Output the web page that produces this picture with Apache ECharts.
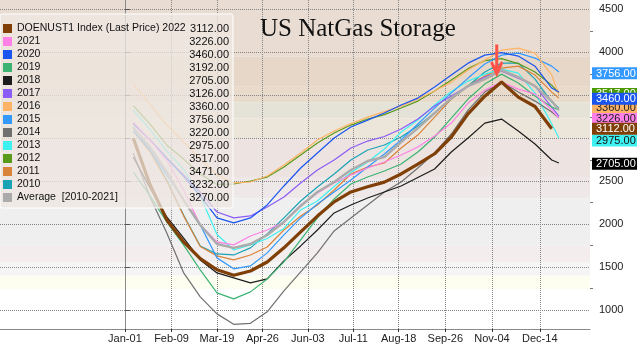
<!DOCTYPE html>
<html><head><meta charset="utf-8">
<script src="https://cdn.jsdelivr.net/npm/echarts@6/dist/echarts.min.js"></script>
<style>html,body{margin:0;padding:0;background:#fff}#c{width:640px;height:345px}</style>
</head><body><div id="c"></div>
<script>
// ---------- DATA ----------
const days = [7,21,35,49,63,77,91,105,119,133,147,161,175,189,203,217,231,245,259,273,287,301,315,329,343,357,363];
const xTickDays = [0,39,77,115,153,191,229,268,307,347];
const xTickLabels = ['Jan-01','Feb-09','Mar-19','Apr-26','Jun-03','Jul-11','Aug-18','Sep-26','Nov-04','Dec-14'];
const yTicks = [1000,1500,2000,2500,3000,3500,4000,4500];
const yMinorTicks = [1250,1750,2250,2750,3250,3750,4250];

const s2022 = [3000,2460,2050,1795,1600,1470,1405,1455,1560,1725,1910,2095,2260,2375,2435,2490,2585,2700,2820,3015,3285,3490,3655,3480,3370,3112,null];
const s2021 = [3189,2980,2747,2398,1991,1794,1759,1863,1933,2026,2224,2363,2480,2573,2654,2724,2805,2898,3026,3177,3410,3561,3654,3573,3515,3329,3236];
const s2020 = [3177,2980,2770,2561,2329,2073,2015,2073,2224,2445,2654,2829,3003,3131,3212,3294,3387,3468,3596,3736,3875,3968,3997,3957,3840,3585,3538];
const s2019 = [2608,2329,2026,1759,1468,1200,1131,1212,1363,1561,1817,2073,2294,2468,2549,2619,2701,2840,3015,3236,3457,3631,3747,3643,3492,3364,3329];
const s2018 = [2782,2422,2084,1840,1584,1433,1375,1317,1363,1573,1747,1933,2131,2224,2305,2375,2445,2544,2643,2840,3003,3177,3224,3085,2933,2747,2712];
const s2017 = [3166,2980,2770,2573,2375,2142,2073,2096,2201,2317,2480,2631,2747,2887,2968,3021,3108,3224,3375,3492,3608,3713,3782,3701,3608,3364,3259];
const s2016 = [3631,3398,3154,2957,2759,2573,2480,2491,2561,2689,2829,2980,3085,3172,3247,3311,3375,3457,3550,3654,3794,3910,4026,4050,3992,3736,3503];
const s2015 = [3084,2864,2573,2282,1991,1608,1480,1514,1666,1875,2073,2236,2375,2515,2666,2817,2980,3166,3352,3526,3701,3864,3968,3992,3933,3840,3771];
const s2014 = [2829,2317,1898,1437,1154,956,834,846,980,1224,1445,1666,1921,2073,2224,2375,2491,2654,2829,3050,3329,3538,3654,3538,3433,3305,3240];
const s2013 = [3329,3100,2850,2640,2330,1880,1700,1759,1834,1951,2166,2270,2439,2603,2724,2875,3073,3212,3387,3544,3666,3747,3806,3759,3526,3166,3003];
const s2012 = [3381,3166,2922,2759,2584,2462,2468,2503,2549,2666,2805,2945,3061,3154,3224,3276,3352,3433,3550,3678,3811,3904,3928,3870,3771,3619,3526];
const s2011 = [3084,2840,2500,2100,1740,1631,1584,1642,1735,1933,2096,2224,2398,2584,2666,2712,2887,3038,3247,3457,3608,3724,3817,3840,3736,3538,3468];
const s2010 = [3131,2864,2515,2108,1747,1654,1642,1724,1887,2073,2270,2433,2584,2747,2864,2922,3015,3143,3294,3457,3608,3771,3875,3875,3689,3422,3352];
const sAvg  = [3119,2898,2608,2282,1991,1770,1724,1770,1875,2026,2212,2375,2491,2631,2736,2782,2957,3119,3294,3468,3608,3689,3794,3713,3608,3433,3329];

const legendNames = ['DOENUST1 Index (Last Price) 2022','2021','2020','2019','2018','2017','2016','2015','2014','2013','2012','2011','2010','Average  [2010-2021]'];
const legendValues = ['3112.00','3226.00','3460.00','3192.00','2705.00','3126.00','3360.00','3756.00','3220.00','2975.00','3517.00','3471.00','3232.00','3270.00'];
const tagValues = [3517,3360,3460,3226,2975,3112,3756,2705];
const arrowDay = 311, arrowValue = 3900;

// ---------- STYLE ----------
const FONT = 'Liberation Sans';
const colors = {
  'DOENUST1 Index (Last Price) 2022':'#7f3f06','2021':'#ff80e6','2020':'#1a55f0','2019':'#3cb371',
  '2018':'#1c1c1c','2017':'#8b5cf6','2016':'#ffb366','2015':'#3399ff','2014':'#707070',
  '2013':'#3ff0f0','2012':'#5a9a1a','2011':'#d9843a','2010':'#1aa3b5','Average  [2010-2021]':'#ababab'
};
const tagStyle = {
  3517:['#4c9a00','#fff'],3360:['#ffb366','#222'],3460:['#1a55f0','#fff'],3226:['#ff80e6','#222'],
  2975:['#3ff0f0','#111'],3112:['#7f3f06','#fff'],3756:['#3399ff','#fff'],2705:['#000','#fff']
};
const bandEdges = [4700,3950,3600,3420,3230,3000,2550,2300,1750,1560,1400,1250];
const bandColors = ['#e9ddd3','#e7d7c8','#e8dbcc','#e5e2d8','#ebe5da','#ede3e1','#efe8e8','#efefef','#f4eded','#f5f5f5','#fdfdf0'];

const seriesData = {
  'Average  [2010-2021]': sAvg, '2010': s2010, '2011': s2011, '2012': s2012, '2013': s2013, '2014': s2014,
  '2015': s2015, '2016': s2016, '2017': s2017, '2018': s2018, '2019': s2019, '2020': s2020, '2021': s2021,
  'DOENUST1 Index (Last Price) 2022': s2022
};

const series = [];
const areas = [];
for (let i = 0; i < bandColors.length; i++) {
  areas.push([{yAxis: bandEdges[i+1], itemStyle:{color: bandColors[i]}}, {yAxis: bandEdges[i]}]);
}
series.push({name:'bg', type:'line', data:[], z:0, silent:true,
  markArea:{silent:true, z:0, data: areas}});

Object.keys(seriesData).forEach(name => {
  const is22 = name.indexOf('2022') >= 0;
  const isAvg = name.indexOf('Average') === 0;
  const s = {
    name, type:'line', showSymbol:false, symbol:'none', z:2,
    data: days.map((d,i) => [d, seriesData[name][i]]),
    color: colors[name],
    lineStyle:{width: is22 ? 3.2 : (isAvg ? 2.4 : 1.2), color: colors[name]}
  };
  if (is22) {
    s.markPoint = {silent:true, symbol:'path://M4.5,0 L7.5,0 L7.5,21 L10.5,16 L12.5,18 L6,32 L-0.5,18 L1.5,16 L4.5,21 Z',
      symbolSize:[13,33], itemStyle:{color:'#ff5347'}, label:{show:false},
      data:[{coord:[arrowDay, arrowValue]}]};
  }
  series.push(s);
});

const tagRich = {};
tagValues.forEach(v => {
  tagRich['t'+v] = {backgroundColor: tagStyle[v][0], color: tagStyle[v][1], padding:[1,3,0,4],
    fontSize:11, fontFamily:FONT, lineHeight:12, width:38};
});

const legendMap = {};
legendNames.forEach((n,i) => legendMap[n] = legendValues[i]);

const chart = echarts.init(document.getElementById('c'), null, {renderer:'canvas'});
chart.setOption({
  animation:false,
  backgroundColor:'#ffffff',
  title:{text:'US NatGas Storage', left:255, top:12,
    textStyle:{fontFamily:'Liberation Serif', fontSize:25, fontWeight:'normal', color:'#111'}},
  grid:{left:0, right:45, top:0, bottom:16, containLabel:false},
  legend:{
    data: legendNames, orient:'vertical', left:0, top:14, icon:'rect', itemWidth:9, itemHeight:9, itemGap:0,
    padding:[8,4,4,3], backgroundColor:'rgba(238,231,226,0.75)', borderColor:'#ffffff', borderWidth:1, borderRadius:2,
    selectedMode:false,
    formatter: n => '{n|' + n + '}{v|' + legendMap[n] + '}',
    textStyle:{fontFamily:FONT, fontSize:11, color:'#111', lineHeight:13,
      rich:{n:{width:172, fontFamily:FONT, fontSize:10.5, color:'#111', lineHeight:13},
            v:{width:40, align:'right', fontFamily:FONT, fontSize:11, color:'#111', lineHeight:13}}}
  },
  xAxis:{type:'value', min:-104.5, max:389, z:1,
    axisLine:{show:true, onZero:false, lineStyle:{color:'#8a8a8a'}},
    axisTick:{show:true, customValues:xTickDays, length:3, lineStyle:{color:'#333'}},
    axisLabel:{customValues:xTickDays, margin:4, fontSize:11, fontFamily:FONT, color:'#222',
      formatter: v => xTickLabels[xTickDays.indexOf(Math.round(v))] || ''},
    splitLine:{show:true, lineStyle:{type:'dotted', color:'#858585', width:1}}},
  yAxis:[
    {type:'value', position:'right', min:780, max:4610, z:1,
      axisLine:{show:true, lineStyle:{color:'#8a8a8a'}},
      axisTick:{show:true, customValues:yTicks, length:5, lineStyle:{color:'#555'}},
      axisLabel:{customValues:yTicks, margin:9, fontSize:11, fontFamily:FONT, color:'#222', formatter: v => String(Math.round(v))},
      splitLine:{show:true, lineStyle:{type:'dotted', color:'#858585', width:1}}},
    {type:'value', position:'right', min:780, max:4610, z:3,
      axisLine:{show:false}, axisTick:{show:false}, splitLine:{show:false},
      axisLabel:{customValues:tagValues, margin:2, formatter: v => '{t' + Math.round(v) + '|' + Number(v).toFixed(2) + '}', rich: tagRich}},
    {type:'value', position:'right', min:780, max:4610, z:1,
      axisLine:{show:false}, splitLine:{show:false}, axisLabel:{show:false},
      axisTick:{show:true, customValues:yMinorTicks, length:3, lineStyle:{color:'#777'}}}
  ],
  series
});
</script></body></html>
